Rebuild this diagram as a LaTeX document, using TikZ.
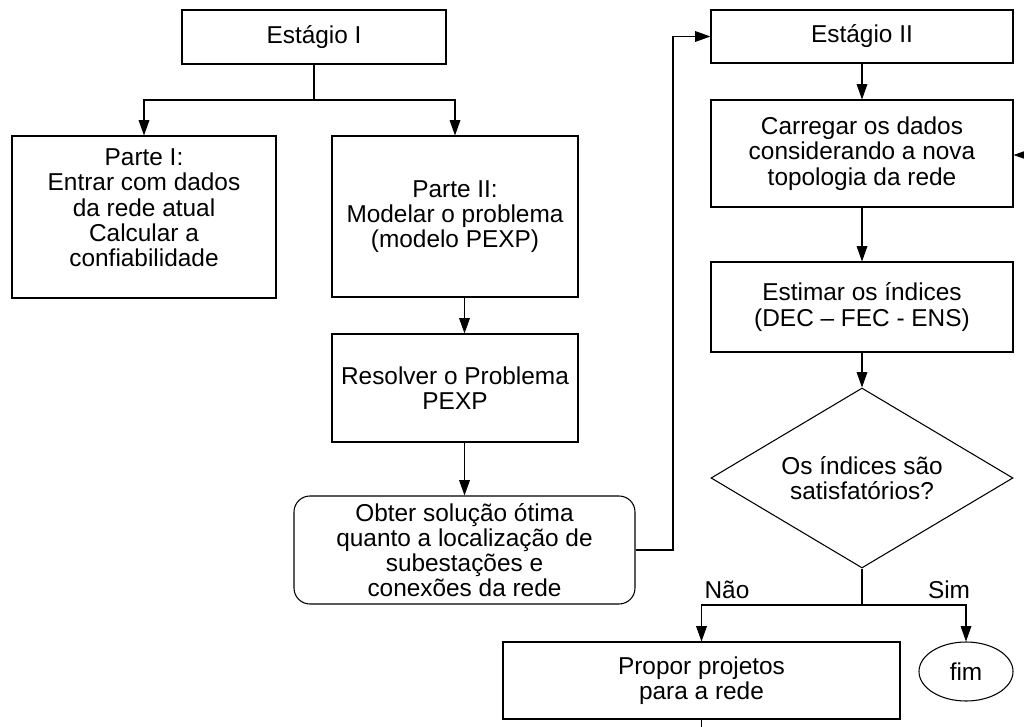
\documentclass[tikz,border=0pt]{standalone}
\usepackage{fontspec}
\setmainfont{Liberation Sans}
\usetikzlibrary{arrows.meta,shapes.geometric}
\begin{document}
\begin{tikzpicture}[x=0.75pt,y=-0.75pt,
  every node/.style={font=\fontsize{18.3pt}{18.9pt}\selectfont, align=center, inner sep=0pt},
  box/.style={draw, rectangle, line width=0.8pt},
  conn/.style={line width=0.8pt},
  arr/.style={conn, -{Triangle[length=11.5pt,width=8pt]}},
  ]
\useasboundingbox (0,0) rectangle (1024,727);
% Stage I
\node[box, minimum width=198pt, minimum height=40.5pt] (e1) at (314,37) {Estágio I};
\node[box, minimum width=198pt, minimum height=121.5pt] (p1) at (144,217) {Parte I:\\Entrar com dados\\da rede atual\\Calcular a\\confiabilidade\\[-5pt]\mbox{}};
\node[box, minimum width=184.5pt, minimum height=120.75pt] (p2) at (455,216.5) {Parte II:\\Modelar o problema\\(modelo PEXP)};
\node[box, minimum width=184.5pt, minimum height=81pt] (r) at (455,388) {Resolver o Problema\\PEXP};
\node[box, rounded corners=12pt, minimum width=255.75pt, minimum height=81pt] (o) at (464.5,550) {Obter solução ótima\\quanto a localização de\\subestações e\\conexões da rede};
% Stage II
\node[box, minimum width=226.5pt, minimum height=39.75pt] (e2) at (862,36.5) {Estágio II};
\node[box, minimum width=226.5pt, minimum height=80.25pt] (c) at (862,153.5) {Carregar os dados\\considerando a nova\\topologia da rede};
\node[box, minimum width=226.5pt, minimum height=67.5pt] (est) at (862,307) {Estimar os índices\\(DEC – FEC - ENS)};
\node[draw, diamond, shape aspect=1.68, line width=0.8pt, minimum width=226.5pt, minimum height=135pt] (d) at (862,478) {Os índices são\\satisfatórios?};
\node[box, minimum width=297.75pt, minimum height=57.75pt] (pr) at (701.5,680.5) {Propor projetos\\para a rede};
\node[draw, ellipse, line width=0.8pt, minimum width=70.5pt, minimum height=44.25pt] (fim) at (966,671.5) {fim};
\node (nao) at (727,590) {Não};
\node (sim) at (949,590) {Sim};
% connectors
\coordinate (j1) at (314,100);
\draw[conn] (e1.south) -- (j1);
\draw[arr] (j1) -| (p1.north);
\draw[arr] (j1) -| (p2.north);
\draw[arr] (p2.south -| o.north) -- (r.north -| o.north);
\draw[arr] (r.south -| o.north) -- (o.north);
\coordinate (k) at (673,0);
\draw[arr] (o.east) -- (o.east -| k) |- (e2.west);
\draw[arr] (e2.south) -- (c.north);
\draw[arr] (c.south) -- (est.north);
\draw[arr] (est.south) -- (d.north);
\coordinate (j2) at (862,605);
\draw[conn] (d.south) -- (j2);
\draw[arr] (j2) -| (pr.north);
\draw[arr] (j2) -| (fim.north);
\coordinate (bot) at (701.5,727);
\draw[conn] (pr.south) -- (bot);
\coordinate (rin) at (1024,155);
\draw[arr] (rin) -- (rin -| c.east);
\end{tikzpicture}
\end{document}
